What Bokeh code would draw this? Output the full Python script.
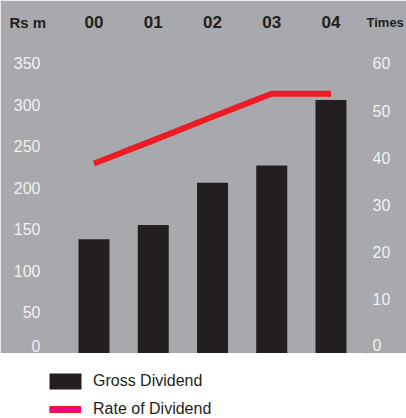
from bokeh.plotting import figure
from bokeh.models import (Range1d, LinearAxis, FixedTicker, Label,
                          Legend, LegendItem, ColumnDataSource)
from bokeh.layouts import column
from bokeh.embed import file_html
from bokeh.resources import INLINE

# ---------------- data ----------------
years = ["00", "01", "02", "03", "04"]
gross_dividend = [138, 155, 206, 227, 306]          # Rs m (left axis)
rate_of_dividend = [38.8, 43.7, 48.7, 53.6, 53.6]   # Times (right axis)
left_ticks = [0, 50, 100, 150, 200, 250, 300, 350]
right_ticks = [0, 10, 20, 30, 40, 50, 60]
left_unit = "Rs m"
right_unit = "Times"
series_names = ["Gross Dividend", "Rate of Dividend"]

# ---------------- style ----------------
GRAY = "#a7a9ac"
BLACK = "#231f20"
RED = "#ed1c24"
MAGENTA = "#ec008c"
TICK = "#f1f1f2"
FONT = "Liberation Sans"

xpos = list(range(len(years)))

p = figure(width=406, height=353,
           x_range=Range1d(-0.8017, 4.5992),
           y_range=Range1d(0, 351.2),
           x_axis_location="above",
           output_backend="svg", toolbar_location=None,
           min_border_left=46, min_border_right=40,
           min_border_top=62, min_border_bottom=0)
p.background_fill_color = GRAY
p.border_fill_color = GRAY
p.outline_line_color = GRAY
p.outline_line_width = 2
p.grid.visible = False

# top axis with year labels
xa = p.xaxis[0]
xa.ticker = FixedTicker(ticks=xpos)
xa.major_label_overrides = {i: y for i, y in zip(xpos, years)}
xa.axis_line_color = None
xa.major_tick_line_color = None
xa.minor_tick_line_color = None
xa.major_label_text_font = FONT
xa.major_label_text_font_style = "bold"
xa.major_label_text_font_size = "17px"
xa.major_label_text_color = BLACK
xa.major_label_standoff = -3

# left axis (zero label sits slightly above the baseline, as in the source)
zero_lift = 9.0
lt = [zero_lift if t == 0 else t for t in left_ticks]
ya = p.yaxis[0]
ya.ticker = FixedTicker(ticks=lt)
ya.major_label_overrides = {zero_lift: "0"}
ya.axis_line_color = None
ya.major_tick_line_color = None
ya.minor_tick_line_color = None
ya.major_label_text_font = FONT
ya.major_label_text_font_size = "16px"
ya.major_label_text_color = TICK
ya.major_label_standoff = 0

# right axis
p.extra_y_ranges = {"rate": Range1d(-1.484, 60.21)}
r_lift = 0.4
rt = [r_lift if t == 0 else t for t in right_ticks]
ra = LinearAxis(y_range_name="rate", ticker=FixedTicker(ticks=rt))
ra.major_label_overrides = {r_lift: "0"}
ra.axis_line_color = None
ra.major_tick_line_color = None
ra.minor_tick_line_color = None
ra.major_label_text_font = FONT
ra.major_label_text_font_size = "16px"
ra.major_label_text_color = TICK
ra.major_label_standoff = 0
p.add_layout(ra, "right")

src = ColumnDataSource(dict(x=xpos, gross=gross_dividend, rate=rate_of_dividend))
p.vbar(x="x", top="gross", bottom=0, width=0.523, source=src,
       fill_color=BLACK, line_color=None)
p.line(x="x", y="rate", source=src, y_range_name="rate",
       line_color=RED, line_width=6, line_join="miter", line_cap="butt")

# unit captions, placed in the top side panel so they are not clipped to the frame
lab_l = Label(x=9, y=21.5, x_units="canvas", y_units="canvas", text=left_unit,
              text_font=FONT, text_font_style="bold", text_font_size="15px",
              text_color=BLACK, text_baseline="middle", text_align="left")
lab_r = Label(x=366, y=21.5, x_units="canvas", y_units="canvas", text=right_unit,
              text_font=FONT, text_font_style="bold", text_font_size="13px",
              text_color=BLACK, text_baseline="middle", text_align="left")
# captions nearest the frame, year axis outermost (top of the panel)
p.above = [lab_l, lab_r, xa]

# ---------------- legend panel ----------------
# same series drawn off-view, only so the legend has glyphs to show
q = figure(width=406, height=65, output_backend="svg", toolbar_location=None,
           x_range=Range1d(-10, -5), y_range=Range1d(-20, -10),
           x_axis_location=None, y_axis_location=None,
           min_border=0, min_border_left=0, min_border_right=0,
           min_border_top=0, min_border_bottom=0)
q.grid.visible = False
q.outline_line_color = None
q.background_fill_color = "white"
q.border_fill_color = "white"

r_bar = q.vbar(x="x", top="gross", bottom=0, width=0.5, source=src,
               fill_color=BLACK, line_color=None)
r_red = q.line(x="x", y="rate", source=src, line_color=RED, line_width=7)
r_mag = q.line(x="x", y="rate", source=src, line_color=MAGENTA, line_width=4)

def style_legend(lg):
    lg.border_line_color = None
    lg.background_fill_alpha = 0
    lg.padding = 0
    lg.margin = 0
    lg.spacing = 0
    lg.label_text_font = FONT
    lg.label_text_font_size = "16px"
    lg.label_text_color = BLACK
    lg.label_height = 16

lg1 = Legend(items=[LegendItem(label=series_names[0], renderers=[r_bar])],
             location=(-1, 27), glyph_width=40, glyph_height=20, label_standoff=8)
style_legend(lg1)
lg2 = Legend(items=[LegendItem(label=series_names[1], renderers=[r_red, r_mag])],
             location=(3, 0.5), glyph_width=32, glyph_height=16, label_standoff=12)
style_legend(lg2)
q.add_layout(lg1, "center")
q.add_layout(lg2, "center")

layout = column(p, q, spacing=0)
open("out.html", "w").write(file_html(layout, INLINE))
